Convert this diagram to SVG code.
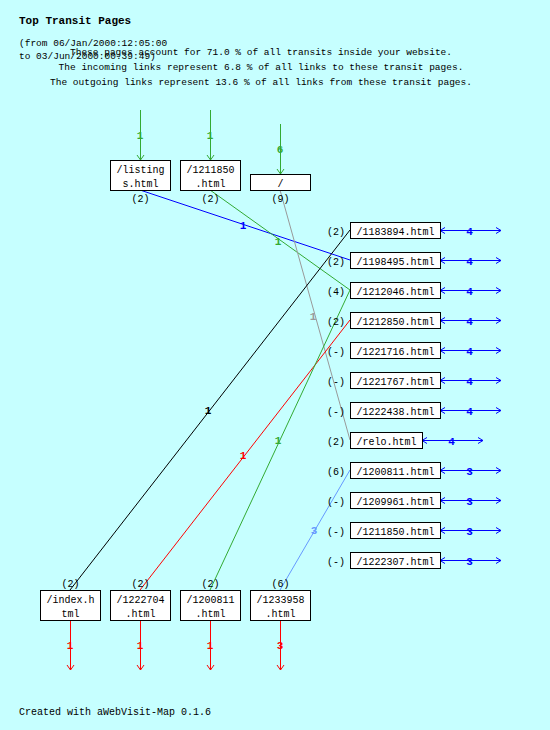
<svg xmlns="http://www.w3.org/2000/svg" width="550" height="730" viewBox="0 0 550 730">
<style>
text{font-family:"Liberation Mono","DejaVu Sans Mono",monospace;fill:#000}
.t{font-size:10px}
.h{font-size:9.5px}
.c{text-anchor:middle}
.e{text-anchor:end}
.ttl{font-size:11px;font-weight:bold}
.lb{font-size:11px;font-weight:bold;text-anchor:middle}
.box{fill:#fff;stroke:#000;stroke-width:1}
.ln{fill:none;stroke-width:1}
</style>
<defs>
<marker id="mg" viewBox="-6 -5 7 10" refX="0" refY="0" markerWidth="7" markerHeight="10" markerUnits="userSpaceOnUse" orient="auto"><path d="M-5,-3.5 L0,0 L-5,3.5" fill="none" stroke="#33aa33"/></marker>
<marker id="mr" viewBox="-6 -5 7 10" refX="0" refY="0" markerWidth="7" markerHeight="10" markerUnits="userSpaceOnUse" orient="auto"><path d="M-5,-3.5 L0,0 L-5,3.5" fill="none" stroke="#ff0000"/></marker>
<marker id="mb" viewBox="-6 -5 7 10" refX="0" refY="0" markerWidth="7" markerHeight="10" markerUnits="userSpaceOnUse" orient="auto-start-reverse"><path d="M-5,-3 L0,0 L-5,3" fill="none" stroke="#0000ff"/></marker>
</defs>
<rect x="0" y="0" width="550" height="730" fill="#c6ffff"/>
<g id="header">
<text class="ttl" x="19" y="24">Top Transit Pages</text>
<text class="h" x="19" y="46">(from 06/Jan/2000:12:05:00</text>
<text class="h" x="19" y="59">to 03/Jun/2000:00:39:49)</text>
<text class="h c" x="261" y="55">These pages account for 71.0 % of all transits inside your website.</text>
<text class="h c" x="261" y="70">The incoming links represent 6.8 % of all links to these transit pages.</text>
<text class="h c" x="261" y="85">The outgoing links represent 13.6 % of all links from these transit pages.</text>
</g>
<g id="connectors">
<g stroke="#33aa33" class="ln">
<line x1="140.5" y1="110" x2="140.5" y2="160" marker-end="url(#mg)"/>
<line x1="210.5" y1="110" x2="210.5" y2="160" marker-end="url(#mg)"/>
<line x1="280.5" y1="124" x2="280.5" y2="174" marker-end="url(#mg)"/>
</g>
<g class="lb" fill="#33aa33" style="fill:#33aa33">
<text class="lb" x="140" y="139" style="fill:#33aa33">1</text>
<text class="lb" x="210" y="139" style="fill:#33aa33">1</text>
<text class="lb" x="280" y="153" style="fill:#33aa33">6</text>
</g>
<line class="ln" stroke="#0000ff" x1="140" y1="190" x2="350" y2="260"/>
<line class="ln" stroke="#33aa33" x1="210" y1="190" x2="350" y2="290"/>
<line class="ln" stroke="#999999" x1="280" y1="190" x2="350" y2="440"/>
<line class="ln" stroke="#000000" x1="70" y1="590" x2="350" y2="230"/>
<line class="ln" stroke="#ff0000" x1="140" y1="590" x2="350" y2="320"/>
<line class="ln" stroke="#33aa33" x1="210" y1="590" x2="350" y2="290"/>
<line class="ln" stroke="#6699ff" x1="280" y1="590" x2="350" y2="470"/>
<text class="lb" x="243" y="229" style="fill:#0000ff">1</text>
<text class="lb" x="278" y="244.5" style="fill:#33aa33">1</text>
<text class="lb" x="313" y="320" style="fill:#999999">1</text>
<text class="lb" x="208" y="414" style="fill:#000000">1</text>
<text class="lb" x="243" y="459" style="fill:#ff0000">1</text>
<text class="lb" x="278" y="444" style="fill:#33aa33">1</text>
<text class="lb" x="314" y="534" style="fill:#6699ff">3</text>
<g class="ln" stroke="#0000ff">
<line x1="440" y1="230.5" x2="501" y2="230.5" marker-start="url(#mb)" marker-end="url(#mb)"/>
<line x1="440" y1="260.5" x2="501" y2="260.5" marker-start="url(#mb)" marker-end="url(#mb)"/>
<line x1="440" y1="290.5" x2="501" y2="290.5" marker-start="url(#mb)" marker-end="url(#mb)"/>
<line x1="440" y1="320.5" x2="501" y2="320.5" marker-start="url(#mb)" marker-end="url(#mb)"/>
<line x1="440" y1="350.5" x2="501" y2="350.5" marker-start="url(#mb)" marker-end="url(#mb)"/>
<line x1="440" y1="380.5" x2="501" y2="380.5" marker-start="url(#mb)" marker-end="url(#mb)"/>
<line x1="440" y1="410.5" x2="501" y2="410.5" marker-start="url(#mb)" marker-end="url(#mb)"/>
<line x1="422" y1="440.5" x2="483" y2="440.5" marker-start="url(#mb)" marker-end="url(#mb)"/>
<line x1="440" y1="470.5" x2="501" y2="470.5" marker-start="url(#mb)" marker-end="url(#mb)"/>
<line x1="440" y1="500.5" x2="501" y2="500.5" marker-start="url(#mb)" marker-end="url(#mb)"/>
<line x1="440" y1="530.5" x2="501" y2="530.5" marker-start="url(#mb)" marker-end="url(#mb)"/>
<line x1="440" y1="560.5" x2="501" y2="560.5" marker-start="url(#mb)" marker-end="url(#mb)"/>
</g>
<text class="lb" x="469.5" y="234.5" style="fill:#0000ff">4</text>
<text class="lb" x="469.5" y="264.5" style="fill:#0000ff">4</text>
<text class="lb" x="469.5" y="294.5" style="fill:#0000ff">4</text>
<text class="lb" x="469.5" y="324.5" style="fill:#0000ff">4</text>
<text class="lb" x="469.5" y="354.5" style="fill:#0000ff">4</text>
<text class="lb" x="469.5" y="384.5" style="fill:#0000ff">4</text>
<text class="lb" x="469.5" y="414.5" style="fill:#0000ff">4</text>
<text class="lb" x="451.5" y="444.5" style="fill:#0000ff">4</text>
<text class="lb" x="469.5" y="474.5" style="fill:#0000ff">3</text>
<text class="lb" x="469.5" y="504.5" style="fill:#0000ff">3</text>
<text class="lb" x="469.5" y="534.5" style="fill:#0000ff">3</text>
<text class="lb" x="469.5" y="564.5" style="fill:#0000ff">3</text>
<g class="ln" stroke="#ff0000">
<line x1="70.5" y1="620" x2="70.5" y2="670" marker-end="url(#mr)"/>
<line x1="140.5" y1="620" x2="140.5" y2="670" marker-end="url(#mr)"/>
<line x1="210.5" y1="620" x2="210.5" y2="670" marker-end="url(#mr)"/>
<line x1="280.5" y1="620" x2="280.5" y2="670" marker-end="url(#mr)"/>
</g>
<text class="lb" x="70" y="649" style="fill:#ff0000">1</text>
<text class="lb" x="140" y="649" style="fill:#ff0000">1</text>
<text class="lb" x="210" y="649" style="fill:#ff0000">1</text>
<text class="lb" x="280" y="649" style="fill:#ff0000">3</text>
</g>
<g id="n_listings"><rect class="box" x="110.5" y="160.5" width="60" height="30"/><text class="t c" x="140.5" y="173">/listing</text><text class="t c" x="140.5" y="186.5">s.html</text><text class="t c" x="140.5" y="202">(2)</text></g>
<g id="n_1211850_top"><rect class="box" x="180.5" y="160.5" width="60" height="30"/><text class="t c" x="210.5" y="173">/1211850</text><text class="t c" x="210.5" y="186.5">.html</text><text class="t c" x="210.5" y="202">(2)</text></g>
<g id="n_root"><rect class="box" x="250.5" y="174.5" width="60" height="16"/><text class="t c" x="280.5" y="187">/</text><text class="t c" x="280.5" y="202">(9)</text></g>
<g id="n_1183894"><rect class="box" x="350.5" y="222.5" width="90" height="16"/><text class="t c" x="395.5" y="235">/1183894.html</text><text class="t e" x="345" y="235">(2)</text></g>
<g id="n_1198495"><rect class="box" x="350.5" y="252.5" width="90" height="16"/><text class="t c" x="395.5" y="265">/1198495.html</text><text class="t e" x="345" y="265">(2)</text></g>
<g id="n_1212046"><rect class="box" x="350.5" y="282.5" width="90" height="16"/><text class="t c" x="395.5" y="295">/1212046.html</text><text class="t e" x="345" y="295">(4)</text></g>
<g id="n_1212850"><rect class="box" x="350.5" y="312.5" width="90" height="16"/><text class="t c" x="395.5" y="325">/1212850.html</text><text class="t e" x="345" y="325">(2)</text></g>
<g id="n_1221716"><rect class="box" x="350.5" y="342.5" width="90" height="16"/><text class="t c" x="395.5" y="355">/1221716.html</text><text class="t e" x="345" y="355">(-)</text></g>
<g id="n_1221767"><rect class="box" x="350.5" y="372.5" width="90" height="16"/><text class="t c" x="395.5" y="385">/1221767.html</text><text class="t e" x="345" y="385">(-)</text></g>
<g id="n_1222438"><rect class="box" x="350.5" y="402.5" width="90" height="16"/><text class="t c" x="395.5" y="415">/1222438.html</text><text class="t e" x="345" y="415">(-)</text></g>
<g id="n_relo"><rect class="box" x="350.5" y="432.5" width="72" height="16"/><text class="t c" x="386.5" y="445">/relo.html</text><text class="t e" x="345" y="445">(2)</text></g>
<g id="n_1200811_r"><rect class="box" x="350.5" y="462.5" width="90" height="16"/><text class="t c" x="395.5" y="475">/1200811.html</text><text class="t e" x="345" y="475">(6)</text></g>
<g id="n_1209961"><rect class="box" x="350.5" y="492.5" width="90" height="16"/><text class="t c" x="395.5" y="505">/1209961.html</text><text class="t e" x="345" y="505">(-)</text></g>
<g id="n_1211850_r"><rect class="box" x="350.5" y="522.5" width="90" height="16"/><text class="t c" x="395.5" y="535">/1211850.html</text><text class="t e" x="345" y="535">(-)</text></g>
<g id="n_1222307"><rect class="box" x="350.5" y="552.5" width="90" height="16"/><text class="t c" x="395.5" y="565">/1222307.html</text><text class="t e" x="345" y="565">(-)</text></g>
<g id="n_index"><rect class="box" x="40.5" y="590.5" width="60" height="30"/><text class="t c" x="70.5" y="603">/index.h</text><text class="t c" x="70.5" y="616.5">tml</text><text class="t c" x="70.5" y="586.5">(2)</text></g>
<g id="n_1222704"><rect class="box" x="110.5" y="590.5" width="60" height="30"/><text class="t c" x="140.5" y="603">/1222704</text><text class="t c" x="140.5" y="616.5">.html</text><text class="t c" x="140.5" y="586.5">(2)</text></g>
<g id="n_1200811_b"><rect class="box" x="180.5" y="590.5" width="60" height="30"/><text class="t c" x="210.5" y="603">/1200811</text><text class="t c" x="210.5" y="616.5">.html</text><text class="t c" x="210.5" y="586.5">(2)</text></g>
<g id="n_1233958"><rect class="box" x="250.5" y="590.5" width="60" height="30"/><text class="t c" x="280.5" y="603">/1233958</text><text class="t c" x="280.5" y="616.5">.html</text><text class="t c" x="280.5" y="586.5">(6)</text></g>
<g id="footer"><text class="t" x="19" y="715">Created with aWebVisit-Map 0.1.6</text></g>
</svg>
